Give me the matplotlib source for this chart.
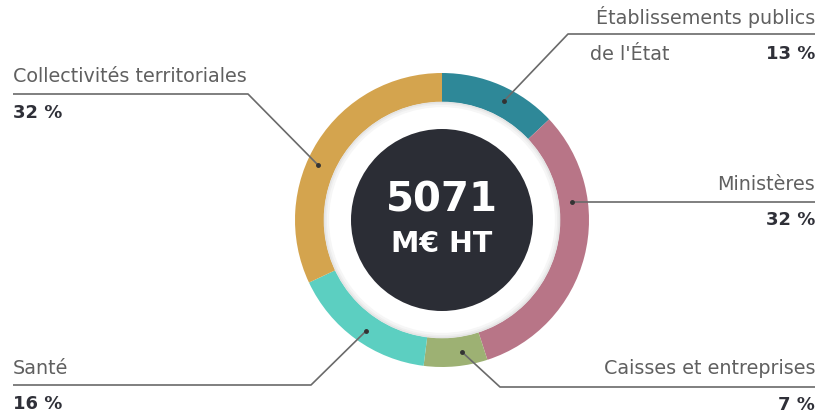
import matplotlib
matplotlib.use("Agg")
import matplotlib.pyplot as plt
from matplotlib.patches import Circle

categories = ["Établissements publics de l'État", "Ministères", "Caisses et entreprises",
              "Santé", "Collectivités territoriales"]
values = [13, 32, 7, 16, 32]
pct_labels = ["13 %", "32 %", "7 %", "16 %", "32 %"]
colors = ["#2e8898", "#b87587", "#9db173", "#5ccfc1", "#d4a44e"]
total_line1 = "5071"
total_line2 = "M€ HT"

W, H = 819, 415
fig = plt.figure(figsize=(W / 100, H / 100), dpi=100)
ax = fig.add_axes([0, 0, 1, 1])

def Y(y):
    return H - y

cx, cy = 442, 220
R, ring = 147, 29

ax.pie(values, colors=colors, startangle=90, counterclock=False, radius=R,
       center=(cx, Y(cy)), wedgeprops=dict(width=ring, linewidth=0), frame=True)
ax.set_xlim(0, W)
ax.set_ylim(0, H)
ax.set_aspect("equal")
ax.axis("off")
# subtle shadow inside ring
for i, c in enumerate(["#e4e4e4", "#eeeeee", "#f6f6f6"]):
    ax.add_patch(Circle((cx, Y(cy)), R - ring - 0.8 - 1.6 * i, facecolor="none",
                        edgecolor=c, lw=1.6, zorder=2))
ax.add_patch(Circle((cx, Y(cy)), 91, facecolor="#2b2d35", edgecolor="none", zorder=3))

font = "DejaVu Sans"
ax.text(cx, Y(201), total_line1, ha="center", va="center", color="white",
        fontsize=29, fontweight="bold", family=font, zorder=4)
ax.text(cx, Y(244), total_line2, ha="center", va="center", color="white",
        fontsize=20.5, fontweight="bold", family=font, zorder=4)

lc = "#6a6a6a"
label_c = "#606060"
pct_c = "#2f3038"
lfs = 13.8
pfs = 13

def leader(points):
    xs = [p[0] for p in points]
    ys = [Y(p[1]) for p in points]
    ax.plot(xs, ys, color=lc, lw=1.2, zorder=5, solid_capstyle="butt")
    ax.plot(xs[0], ys[0], "o", color="#333333", ms=2.5, zorder=6)

# Établissements publics
leader([(504, 101), (568, 34), (815, 34)])
ax.text(815, Y(17), "Établissements publics", ha="right", va="center", color=label_c, fontsize=lfs, family=font)
ax.text(590, Y(54), "de l'État", ha="left", va="center", color=label_c, fontsize=lfs, family=font)
ax.text(815, Y(54), pct_labels[0], ha="right", va="center", color=pct_c, fontsize=pfs, fontweight="bold", family=font)

# Ministères
leader([(572, 202), (815, 202)])
ax.text(815, Y(185), categories[1], ha="right", va="center", color=label_c, fontsize=lfs, family=font)
ax.text(815, Y(220), pct_labels[1], ha="right", va="center", color=pct_c, fontsize=pfs, fontweight="bold", family=font)

# Caisses et entreprises
leader([(462, 352), (500, 387), (815, 387)])
ax.text(815, Y(369), categories[2], ha="right", va="center", color=label_c, fontsize=lfs, family=font)
ax.text(815, Y(405), pct_labels[2], ha="right", va="center", color=pct_c, fontsize=pfs, fontweight="bold", family=font)

# Santé
leader([(366, 331), (311, 385), (13, 385)])
ax.text(13, Y(368), categories[3], ha="left", va="center", color=label_c, fontsize=lfs, family=font)
ax.text(13, Y(404), pct_labels[3], ha="left", va="center", color=pct_c, fontsize=pfs, fontweight="bold", family=font)

# Collectivités territoriales
leader([(318, 165), (248, 94), (13, 94)])
ax.text(13, Y(76), categories[4], ha="left", va="center", color=label_c, fontsize=lfs, family=font)
ax.text(13, Y(113), pct_labels[4], ha="left", va="center", color=pct_c, fontsize=pfs, fontweight="bold", family=font)

fig.savefig("out.png", dpi=100, facecolor="white")
